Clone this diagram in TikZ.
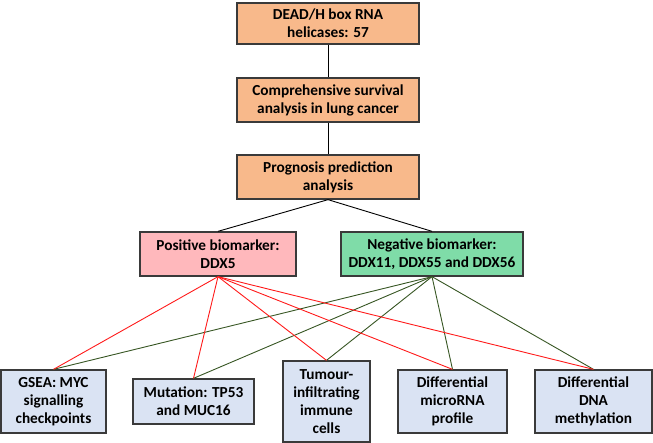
\documentclass[tikz,border=0pt]{standalone}
\usepackage{fontspec}
\setmainfont{Carlito}
\definecolor{orangefill}{HTML}{F8B98B}
\definecolor{pinkfill}{HTML}{FFB8BC}
\definecolor{greenfill}{HTML}{7FDCA8}
\definecolor{bluefill}{HTML}{DAE3F3}
\definecolor{boxline}{HTML}{3A3A3A}
\definecolor{posline}{HTML}{FF1A1A}
\definecolor{negline}{HTML}{375623}
\begin{document}
\begin{tikzpicture}[x=1pt,y=-1pt,
  box/.style={draw=boxline, line width=1.3pt, rectangle, align=center, inner sep=0pt,
    font=\fontsize{15.3}{18}\selectfont\bfseries, text=black},
  ob/.style={box, fill=orangefill, minimum width=182pt},
  bb/.style={box, fill=bluefill},
  link/.style={line width=0.9pt},
  pl/.style={link, draw=posline},
  nl/.style={link, draw=negline},
  tl/.style={link, draw=black}]
\useasboundingbox (0,0) rectangle (653,443);
\node[ob, minimum height=41pt] (b1) at (328,23.5) {DEAD/H box RNA\\helicases: 57};
\node[ob, minimum height=44pt] (b2) at (328,100) {Comprehensive survival\\analysis in lung cancer};
\node[ob, minimum height=44pt] (b3) at (328,177) {Prognosis prediction\\analysis};
\node[box, fill=pinkfill, minimum width=156pt, minimum height=44pt] (pos) at (218,254) {Positive biomarker:\\DDX5};
\node[box, fill=greenfill, minimum width=182pt, minimum height=44pt] (neg) at (432,254) {Negative biomarker:\\DDX11, DDX55 and DDX56};
\node[bb, minimum width=105pt, minimum height=63pt] (gsea) at (53.5,401.5) {GSEA: MYC\\signalling\\checkpoints};
\node[bb, minimum width=121pt, minimum height=45pt] (mut) at (193.5,401.5) {Mutation: TP53\\and MUC16};
\node[bb, minimum width=87pt, minimum height=81pt] (tum) at (326.5,401.5) {Tumour-\\infiltrating\\immune\\cells};
\node[bb, minimum width=109pt, minimum height=63pt] (mir) at (452.5,401.5) {Differential\\microRNA\\profile};
\node[bb, minimum width=117pt, minimum height=63pt] (dna) at (593.5,401.5) {Differential\\DNA\\methylation};
\draw[tl] (b1.south) -- (b2.north);
\draw[tl] (b2.south) -- (b3.north);
\draw[tl] (b3.south) -- (pos.north);
\draw[tl] (b3.south) -- (neg.north);
\foreach \t in {gsea,mut,tum,mir,dna} {
  \draw[nl] (neg.south) -- (\t.north);
  \draw[pl] (pos.south) -- (\t.north);
}
\end{tikzpicture}
\end{document}
